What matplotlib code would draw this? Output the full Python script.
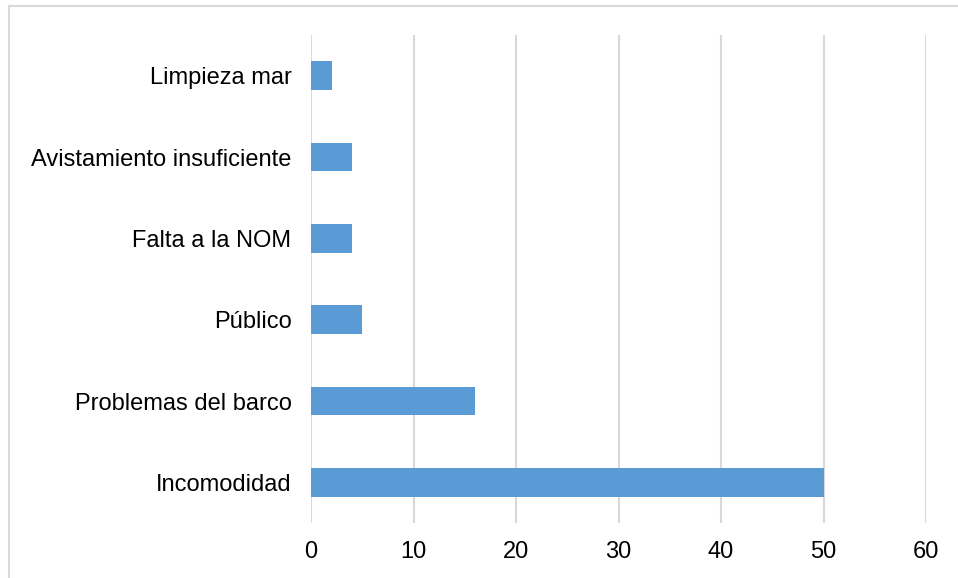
import matplotlib
matplotlib.use("Agg")
import matplotlib.pyplot as plt
from matplotlib.lines import Line2D

categories = ["Incomodidad", "Problemas del barco", "Público", "Falta a la NOM",
              "Avistamiento insuficiente", "Limpieza mar"]
values = [50, 16, 5, 4, 4, 2]
xticks = [0, 10, 20, 30, 40, 50, 60]

plt.rcParams['font.family'] = ['Liberation Sans', 'DejaVu Sans']

fig = plt.figure(figsize=(9.58, 5.78), dpi=100)
ax = fig.add_axes([311/958, (578-523)/578, (926-311)/958, 488/578])

ax.barh(range(len(categories)), values, height=0.35, color="#5B9BD5", zorder=3)
ax.set_yticks(range(len(categories)))
ax.set_yticklabels(categories)
ax.set_ylim(-0.5, len(categories) - 0.5)
ax.set_xlim(0, 60)
ax.set_xticks(xticks)
ax.set_xticklabels([str(t) for t in xticks])
ax.grid(axis="x", color="#D9D9D9", linewidth=1.5, zorder=0)
for s in ax.spines.values():
    s.set_visible(False)
ax.tick_params(axis="both", length=0, labelsize=17, colors="#000000")
ax.tick_params(axis="y", pad=14)
ax.tick_params(axis="x", pad=13)

fig.add_artist(Line2D([8.5/958, 1], [1 - 6/578, 1 - 6/578], transform=fig.transFigure,
                      color="#D9D9D9", linewidth=1.5))
fig.add_artist(Line2D([8.5/958, 8.5/958], [0, 1 - 6/578], transform=fig.transFigure,
                      color="#D9D9D9", linewidth=1.5))

fig.savefig("out.png", dpi=100)
